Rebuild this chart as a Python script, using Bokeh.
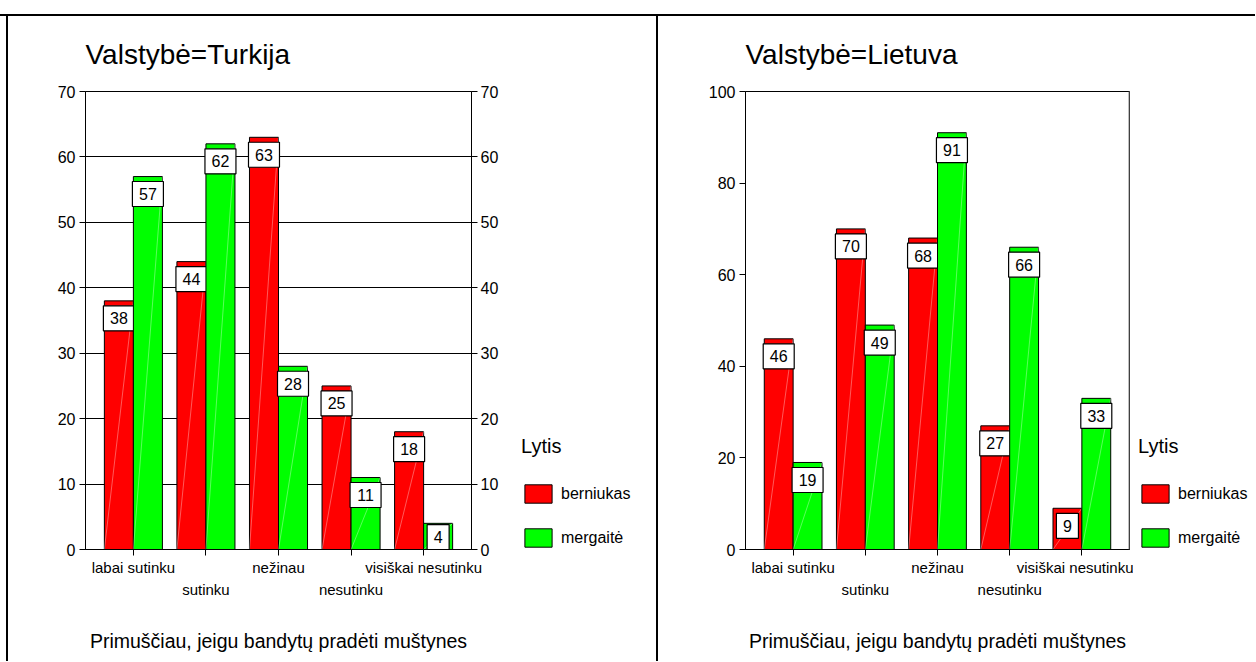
from bokeh.plotting import figure
from bokeh.models import (Range1d, LinearAxis, FixedTicker, Legend, LegendItem,
                          Span, ColumnDataSource, Div, Grid)
from bokeh.layouts import row, column
from bokeh.embed import file_html
from bokeh.resources import INLINE
from bokeh.core.properties import value

# ---------------- data ----------------
categories = ["labai sutinku", "sutinku", "nežinau", "nesutinku", "visiškai nesutinku"]
gender_labels = ["berniukas", "mergaitė"]
turkija_berniukas = [38, 44, 63, 25, 18]
turkija_mergaite = [57, 62, 28, 11, 4]
lietuva_berniukas = [46, 70, 68, 27, 9]
lietuva_mergaite = [19, 49, 91, 66, 33]
turkija_ticks = [0, 10, 20, 30, 40, 50, 60, 70]
lietuva_ticks = [0, 20, 40, 60, 80, 100]
titles = ["Valstybė=Turkija", "Valstybė=Lietuva"]
x_title = "Primuščiau, jeigu bandytų pradėti muštynes"
legend_title = "Lytis"

FONT_S = "Liberation Sans"
FONT = value(FONT_S)
RED = "#FF0000"
GREEN = "#00FF00"
H = 645


def make_chart(title, boys, girls, ticks, W, bl, br, bt, bb, twin, grid):
    n = len(categories)
    ymax = ticks[-1]
    p = figure(width=W, height=H, output_backend="svg", toolbar_location=None,
               x_range=Range1d(-0.66, n - 1 + 0.66), y_range=Range1d(0, ymax),
               x_axis_type=None, y_axis_type=None,
               min_border_left=bl, min_border_right=br,
               min_border_top=bt, min_border_bottom=bb)
    p.outline_line_color = "black"
    p.outline_line_width = 1
    p.background_fill_color = "white"
    p.border_fill_color = "white"

    frame_h = H - bt - bb
    ppu = frame_h / ymax

    # title
    p.title.text = title
    p.title.align = "left"
    p.title.vertical_align = "top"
    p.title.text_font = FONT_S
    p.title.text_font_size = "28px"
    p.title.text_font_style = "normal"
    p.title.text_color = "black"
    p.title.standoff = 40
    p.title.offset = 0

    yt = FixedTicker(ticks=ticks)
    axis_style = dict(major_tick_in=0, major_tick_out=6, minor_tick_in=0, minor_tick_out=0,
                      axis_line_color="black", major_tick_line_color="black",
                      major_label_text_font=FONT_S, major_label_text_font_size="16px",
                      major_label_text_color="black")
    yl = LinearAxis(ticker=yt, major_label_standoff=4, **axis_style)
    p.add_layout(yl, "left")
    if twin:
        yr = LinearAxis(ticker=yt, major_label_standoff=3, **axis_style)
        p.add_layout(yr, "right")
    if grid:
        p.add_layout(Grid(dimension=1, ticker=yt, grid_line_color="black", grid_line_width=1))

    xt = FixedTicker(ticks=list(range(n)))
    x1 = LinearAxis(ticker=xt, major_label_standoff=3,
                    major_label_overrides={i: (c if i % 2 == 0 else "") for i, c in enumerate(categories)},
                    **{**axis_style, "major_label_text_font_size": "15px"})
    p.add_layout(x1, "below")
    x2 = LinearAxis(ticker=xt, major_label_standoff=2, major_tick_out=0, major_tick_in=0,
                    minor_tick_in=0, minor_tick_out=0,
                    axis_line_color=None, major_tick_line_color=None,
                    major_label_overrides={i: (c if i % 2 == 1 else "") for i, c in enumerate(categories)},
                    major_label_text_font=FONT_S, major_label_text_font_size="15px",
                    major_label_text_color="black",
                    axis_label=x_title, axis_label_standoff=29,
                    axis_label_text_font=FONT_S, axis_label_text_font_size="19.5px",
                    axis_label_text_font_style="normal", axis_label_text_color="black")
    p.add_layout(x2, "below")

    for k, (vals, col, shift) in enumerate([(boys, RED, -0.2), (girls, GREEN, 0.2)]):
        xs = [i + shift for i in range(n)]
        src = ColumnDataSource(dict(x=xs, top=vals))
        p.vbar(x="x", top="top", bottom=0, width=0.4, fill_color=col,
               line_color="black", line_width=1, source=src)
        # faint diagonal sheen
        p.segment(x0=[x - 0.2 for x in xs], y0=[0] * n, x1=[x + 0.2 for x in xs], y1=vals,
                  line_color="white", line_alpha=0.35, line_width=1)
        # value label boxes
        ycs, ws, txt = [], [], []
        for v in vals:
            if v * ppu >= 30:
                yc = v - 17.5 / ppu
            else:
                yc = 12.5 / ppu
            ycs.append(yc)
            ws.append(13 + 9 * len(str(v)))
            txt.append(str(v))
        lsrc = ColumnDataSource(dict(x=xs, y=ycs, w=ws, t=txt))
        p.rect(x="x", y="y", width="w", height=25, width_units="screen", height_units="screen",
               fill_color="white", line_color="black", line_width=1.2, source=lsrc)
        p.text(x="x", y="y", text="t", text_align="center", text_baseline="middle",
               text_font=FONT, text_font_size="16px", text_color="black", source=lsrc)

    if not twin:
        p.add_layout(Span(location=n - 1 + 0.66, dimension="height", line_color="#808080", line_width=2))
    return p


def make_legend(W, lx, boys, girls):
    n = len(categories)
    q = figure(width=W, height=H, output_backend="svg", toolbar_location=None, title=None,
               x_range=Range1d(-0.66, n - 1 + 0.66), y_range=Range1d(0, 1),
               x_axis_type=None, y_axis_type=None,
               min_border_left=0, min_border_right=0, min_border_top=0, min_border_bottom=0)
    q.outline_line_color = None
    q.background_fill_color = "white"
    q.border_fill_color = "white"
    rs = []
    for vals, col in ((boys, RED), (girls, GREEN)):
        rs.append(q.vbar(x=list(range(n)), top=vals, bottom=0, width=0.4, fill_color=col,
                         line_color="black", line_width=1, visible=False))
    legend = Legend(items=[LegendItem(label=gender_labels[0], renderers=[rs[0]]),
                           LegendItem(label=gender_labels[1], renderers=[rs[1]])],
                    title=legend_title, title_text_font=FONT_S, title_text_font_size="20px",
                    title_text_font_style="normal", title_text_color="black", title_standoff=24,
                    label_text_font=FONT_S, label_text_font_size="16px", label_text_color="black",
                    glyph_width=34, glyph_height=23, label_standoff=6, spacing=21,
                    label_height=23, padding=0, margin=0, border_line_color=None,
                    background_fill_alpha=0, inactive_fill_alpha=0, location=(lx, 0))
    q.add_layout(legend, "center")
    return q


p1 = make_chart(titles[0], turkija_berniukas, turkija_mergaite, turkija_ticks,
                502, 77, 39, 74, 112, True, True)
l1 = make_legend(146, 11, turkija_berniukas, turkija_mergaite)
p2 = make_chart(titles[1], lietuva_berniukas, lietuva_mergaite, lietuva_ticks,
                475, 87, 4, 75, 112, False, False)
l2 = make_legend(122, 5, lietuva_berniukas, lietuva_mergaite)


def block(w, h, color):
    return Div(width=w, height=h, margin=0, styles={"background-color": color})


layout = column(
    block(1255, 14, "white"),
    block(1255, 2, "black"),
    row(block(6, H, "white"), block(2, H, "black"), p1, l1, block(2, H, "black"), p2, l2, spacing=0),
    spacing=0,
)

open("out.html", "w").write(file_html(layout, INLINE))
